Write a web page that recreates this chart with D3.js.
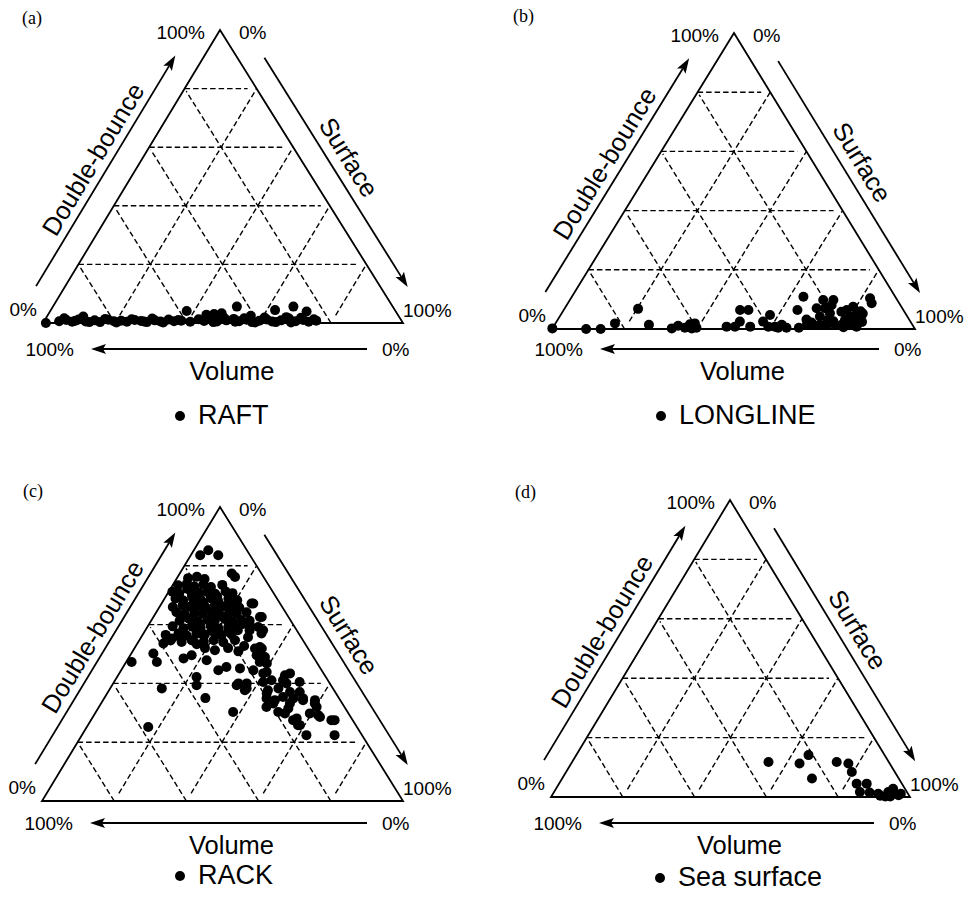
<!DOCTYPE html>
<html>
<head>
<meta charset="utf-8">
<script src="https://cdn.jsdelivr.net/npm/d3@7"></script>
<style>
  body { margin: 0; background: #fff; }
  svg { display: block; }
</style>
</head>
<body>
<script>
const panelLetters = ['(a)', '(b)', '(c)', '(d)'];
const legendNames = ['RAFT', 'LONGLINE', 'RACK', 'Sea surface'];
const axisNames = ['Double-bounce', 'Surface', 'Volume'];
const gridSteps = [20, 40, 60, 80];
const topLabels = ['100%', '0%'];   // double-bounce max / surface min at apex
const sideLabels = ['0%', '100%'];  // left corner (double-bounce), right corner (surface)
const baseLabels = ['100%', '0%'];  // volume arrow ends

// each point: [double-bounce %, surface %], volume is the rest
const raftPoints = [
  [0.0, 0.8], [0.6, 4.2], [1.0, 6.0], [0.4, 7.9], [1.2, 9.3], [0.5, 11.6], [0.9, 13.9], [0.3, 15.7],
  [1.1, 17.6], [0.6, 19.4], [0.8, 21.3], [0.4, 23.1], [1.0, 25.0], [0.7, 26.9], [0.3, 28.7], [0.9, 30.6],
  [0.5, 32.4], [1.2, 34.3], [0.6, 36.1], [0.8, 38.0], [0.4, 40.7], [1.3, 42.6], [0.7, 44.4], [1.0, 46.3],
  [0.5, 48.1], [0.9, 50.5], [1.4, 52.3], [0.6, 54.2], [1.1, 56.0], [0.3, 57.9], [0.8, 59.7], [1.2, 61.6],
  [0.5, 63.4], [0.9, 65.7], [1.5, 67.6], [0.6, 69.9], [1.0, 71.8], [0.4, 73.6], [0.8, 75.5],
  [1.6, 5.1], [0.8, 8.6], [0.3, 12.7], [1.4, 16.6], [0.2, 20.3], [1.3, 24.0], [0.5, 27.8], [1.5, 29.6],
  [0.2, 33.3], [1.0, 37.1], [1.6, 45.3], [0.3, 47.2], [1.7, 49.5], [0.4, 53.2], [1.6, 55.1], [0.2, 58.8],
  [1.9, 60.6], [0.3, 64.5], [2.0, 66.6], [0.2, 68.8], [1.8, 70.8], [1.3, 74.6],
  [4.1, 37.9], [5.6, 51.1], [4.4, 62.3], [5.6, 66.8], [3.9, 71.3], [2.2, 10.1], [3.3, 48.0], [3.1, 46.0],
  [2.5, 56.5], [2.8, 44.0]
];

const longlinePoints = [
  [0.2, 0.0], [0.0, 9.4], [0.0, 13.4], [1.9, 16.4], [6.8, 20.3], [1.4, 26.0], [0.2, 32.9], [1.1, 34.2],
  [0.4, 36.4], [1.6, 37.2], [1.9, 38.4], [0.4, 39.6], [0.2, 38.4],
  [0.8, 47.7], [0.8, 50.0], [6.4, 48.6], [6.4, 50.9], [2.5, 50.5], [0.8, 54.2], [2.5, 56.9], [4.7, 57.7],
  [0.8, 59.2], [0.8, 61.0], [1.4, 62.6], [0.4, 64.4], [0.4, 62.1],
  [10.9, 63.8], [6.4, 64.4], [1.4, 69.5], [1.4, 71.3], [1.4, 73.1], [1.4, 75.0], [7.0, 69.4], [9.8, 69.8],
  [7.0, 71.7], [9.8, 72.6], [5.3, 73.9], [4.2, 71.7], [1.4, 77.3], [1.4, 79.1], [1.9, 81.1], [6.4, 78.0],
  [7.5, 79.2], [4.7, 81.6], [3.6, 81.6], [4.2, 82.8], [4.2, 80.0], [10.4, 82.4], [8.7, 83.7], [0.8, 83.5],
  [2.4, 84.2], [3.0, 79.2], [0.4, 67.8], [3.2, 68.5], [2.6, 76.2], [5.8, 76.8], [5.2, 83.0], [2.0, 82.6],
  [6.0, 82.0], [0.6, 80.0], [3.0, 74.5], [8.0, 73.0], [2.2, 70.4]
];

const rackPoints = [
  [83.6, 2.6], [85.3, 4.0], [83.6, 7.6], [77.4, 14.4], [76.2, 15.9], [67.2, 25.4], [62.6, 30.0],
  [75.8, 3.1], [76.3, 5.3], [75.5, 7.8],
  [73.4, 1.5], [73.9, 3.7], [73.0, 6.2], [73.6, 8.4], [72.8, 10.9], [73.5, 13.7],
  [71.2, 1.0], [70.6, 3.2], [71.4, 6.0], [70.8, 8.5], [71.1, 10.7], [70.5, 13.2], [71.3, 15.7], [70.7, 17.9],
  [68.9, 3.0], [68.2, 5.5], [68.7, 8.0], [68.4, 10.2], [69.0, 12.7], [68.1, 15.2], [68.8, 17.7], [68.3, 20.4],
  [66.0, 3.7], [66.6, 6.1], [66.1, 8.4], [66.5, 10.6], [65.9, 12.8], [66.7, 15.0], [66.2, 17.5], [66.4, 19.7], [65.8, 22.2],
  [64.2, 5.6], [63.6, 8.1], [64.1, 10.6], [63.7, 13.1], [64.3, 15.3], [63.5, 17.8], [64.0, 20.3], [63.8, 22.5], [64.2, 25.0],
  [61.3, 7.9], [61.8, 10.4], [61.2, 12.9], [61.7, 15.4], [61.4, 17.6], [61.9, 20.1], [61.1, 22.6], [61.6, 24.8], [61.3, 27.3],
  [59.4, 6.9], [58.8, 10.2], [59.3, 12.4], [58.9, 14.9], [59.5, 17.4], [58.7, 19.9], [59.2, 22.4], [59.0, 24.6],
  [56.5, 6.4], [57.0, 9.7], [56.4, 12.2], [56.9, 14.7], [56.6, 17.2], [57.1, 19.7], [56.3, 21.9], [56.8, 24.4],
  [54.6, 8.7], [54.1, 12.0], [54.5, 15.0], [54.2, 18.1], [54.7, 20.6], [54.0, 23.6],
  [54.7, 26.5], [52.7, 30.0], [58.1, 25.6], [55.7, 29.6], [52.0, 25.9], [51.3, 22.6], [52.0, 19.5],
  [67.2, 24.9], [62.6, 29.5], [59.8, 28.1], [59.2, 30.7], [58.1, 32.6], [57.0, 32.7], [51.9, 33.4], [51.9, 35.3],
  [49.6, 35.0], [49.0, 37.6], [47.3, 37.0], [46.8, 39.2], [44.5, 26.9], [45.6, 28.6], [45.1, 32.6], [39.4, 34.5],
  [38.3, 37.8], [43.9, 40.6],
  [40.5, 41.3], [41.1, 43.3], [42.8, 46.2], [40.0, 48.0], [37.7, 44.0], [38.3, 46.6], [37.1, 50.4], [34.9, 45.0],
  [34.3, 47.6], [35.4, 49.3], [34.9, 52.4], [40.5, 51.4], [37.1, 53.1], [34.3, 55.4], [32.0, 46.4], [30.3, 50.5],
  [31.5, 52.7], [34.3, 58.7], [32.0, 60.3], [29.8, 59.5], [29.2, 62.1], [28.1, 56.7], [25.8, 58.7], [22.4, 62.2],
  [27.5, 66.6], [27.5, 67.5], [22.4, 70.0], [28.6, 62.9], [27.5, 56.0], [25.8, 58.2], [43.4, 47.3], [41.1, 46.5],
  [36.6, 44.2], [29.8, 52.6], [33.2, 47.7], [33.2, 52.3], [43.4, 39.9], [50.2, 35.6], [44.5, 36.6], [52.4, 34.5],
  [40.0, 37.0], [33.2, 59.2], [34.9, 55.1],
  [47.3, 1.5], [47.3, 8.5], [50.2, 6.1], [48.5, 15.3], [49.6, 17.0], [47.9, 22.0], [42.2, 22.0], [39.4, 23.4],
  [38.3, 14.3], [35.0, 28.0], [30.3, 38.0], [25.2, 17.0], [40.0, 34.7], [37.7, 37.6], [53.6, 7.2], [55.3, 8.7],
  [54.7, 14.5], [57.0, 15.7],
  [72.2, 4.6], [69.8, 7.1], [67.4, 11.4], [65.1, 16.3], [62.8, 19.0], [60.4, 13.8], [57.9, 18.5], [55.5, 11.0],
  [62.5, 9.2], [65.2, 21.0], [60.2, 26.0], [57.6, 23.1], [69.6, 14.2], [58.0, 28.9], [53.3, 16.6], [50.9, 29.3]
];

const seaPoints = [
  [11.8, 54.7], [11.3, 63.6], [14.1, 64.7], [6.2, 69.6], [11.8, 73.7], [11.3, 77.2], [8.4, 79.6], [4.5, 82.9],
  [4.5, 85.7], [1.7, 85.2], [1.1, 90.6], [1.7, 93.1], [2.8, 93.9], [0.6, 96.5], [0.2, 93.0], [0.2, 94.4],
  [1.1, 96.9], [1.5, 88.0], [0.4, 91.5]
];

const panelData = [raftPoints, longlinePoints, rackPoints, seaPoints];

// where each panel sits on the page
const layout = [
  { bl: [43, 323], br: [403, 323], apex: [220, 30], arrowY: 349, letter: [22, 24], legend: [180, 424] },
  { bl: [552, 329], br: [915, 329], apex: [734, 33], arrowY: 349, letter: [513, 22], legend: [661, 424] },
  { bl: [42, 801], br: [403, 801], apex: [220, 507], arrowY: 823, letter: [23, 497], legend: [180, 884] },
  { bl: [551, 797], br: [910, 797], apex: [730, 500], arrowY: 823, letter: [515, 498], legend: [660, 886] }
];

const sans = '"Liberation Sans", Arial, Helvetica, sans-serif';
const serif = '"Liberation Serif", "Times New Roman", serif';

const svg = d3.select('body').append('svg')
  .attr('width', 968)
  .attr('height', 903);

svg.append('rect').attr('width', 968).attr('height', 903).attr('fill', '#fff');

function trim(a, b, gapA, gapB) {
  const dx = b[0] - a[0], dy = b[1] - a[1], len = Math.hypot(dx, dy);
  const ux = dx / len, uy = dy / len;
  return [[a[0] + ux * gapA, a[1] + uy * gapA], [b[0] - ux * gapB, b[1] - uy * gapB]];
}

// point along edge a->b, pushed out along the left-hand normal
function offsetPoint(a, b, along, out) {
  const dx = b[0] - a[0], dy = b[1] - a[1], len = Math.hypot(dx, dy);
  const ux = dx / len, uy = dy / len;
  const t = along < 0 ? len + along : along;
  return [a[0] + ux * t + uy * out, a[1] + uy * t - ux * out];
}

function edgeLen(a, b) {
  return Math.hypot(b[0] - a[0], b[1] - a[1]);
}

function edgeAngle(a, b) {
  return Math.atan2(b[1] - a[1], b[0] - a[0]) * 180 / Math.PI;
}

function drawArrow(g, from, to) {
  const dx = to[0] - from[0], dy = to[1] - from[1], len = Math.hypot(dx, dy);
  const ux = dx / len, uy = dy / len;
  const headLen = 15, headHalf = 5;
  const bx = to[0] - ux * headLen, by = to[1] - uy * headLen;
  g.append('line')
    .attr('x1', from[0]).attr('y1', from[1])
    .attr('x2', bx + ux * 3).attr('y2', by + uy * 3)
    .attr('stroke', '#000')
    .attr('stroke-width', 1.8);
  const head = [
    [to[0], to[1]],
    [bx - uy * headHalf, by + ux * headHalf],
    [bx + ux * 3, by + uy * 3],
    [bx + uy * headHalf, by - ux * headHalf]
  ];
  g.append('path')
    .attr('d', d3.line()(head) + 'Z')
    .attr('fill', '#000');
}

layout.forEach((p, i) => {
  const g = svg.append('g');
  const width = p.br[0] - p.bl[0];

  const yScale = d3.scaleLinear().domain([0, 100]).range([p.bl[1], p.apex[1]]);
  const leanScale = d3.scaleLinear().domain([0, 100]).range([p.bl[0], p.apex[0]]);
  const surfScale = d3.scaleLinear().domain([0, 100]).range([0, width]);
  const proj = (dbl, surf) => [leanScale(dbl) + surfScale(surf), yScale(dbl)];

  // dashed grid
  const gridSegs = [];
  gridSteps.forEach((f) => {
    gridSegs.push(trim(proj(f, 0), proj(f, 100 - f), 0, 9));
    gridSegs.push(trim(proj(0, f), proj(f, 0), 0, 3));
    gridSegs.push(trim(proj(0, f), proj(100 - f, f), 9, 0));
  });
  g.selectAll('line.grid')
    .data(gridSegs)
    .join('line')
    .attr('class', 'grid')
    .attr('x1', (d) => d[0][0]).attr('y1', (d) => d[0][1])
    .attr('x2', (d) => d[1][0]).attr('y2', (d) => d[1][1])
    .attr('stroke', '#000')
    .attr('stroke-width', 1.4)
    .attr('stroke-dasharray', '5.5,3');

  // triangle outline
  g.append('path')
    .attr('d', d3.line()([proj(0, 0), proj(0, 100), proj(100, 0)]) + 'Z')
    .attr('fill', 'none')
    .attr('stroke', '#000')
    .attr('stroke-width', 1.8);

  // data points
  g.selectAll('circle.pt')
    .data(panelData[i])
    .join('circle')
    .attr('class', 'pt')
    .attr('cx', (d) => proj(d[0], d[1])[0])
    .attr('cy', (d) => proj(d[0], d[1])[1])
    .attr('r', 5)
    .attr('fill', '#000');

  const apex = proj(100, 0), bl = proj(0, 0), br = proj(0, 100);

  // double-bounce arrow + title
  drawArrow(g, offsetPoint(bl, apex, 28, 25), offsetPoint(bl, apex, -45, 25));
  const dbPos = offsetPoint(bl, apex, edgeLen(bl, apex) * 0.485, 33);
  g.append('text')
    .attr('transform', `translate(${dbPos[0]},${dbPos[1]}) rotate(${edgeAngle(bl, apex)})`)
    .attr('text-anchor', 'middle')
    .attr('font-family', sans)
    .attr('font-size', 25.5)
    .text(axisNames[0]);

  // surface arrow + title
  drawArrow(g, offsetPoint(apex, br, 47, 23), offsetPoint(apex, br, -28, 23));
  const sfPos = offsetPoint(apex, br, edgeLen(apex, br) * 0.51, 33);
  g.append('text')
    .attr('transform', `translate(${sfPos[0]},${sfPos[1]}) rotate(${edgeAngle(apex, br)})`)
    .attr('text-anchor', 'middle')
    .attr('font-family', sans)
    .attr('font-size', 25.5)
    .text(axisNames[1]);

  // volume arrow + title
  const arrowL = bl[0] + 48, arrowR = br[0] - 36;
  drawArrow(g, [arrowR, p.arrowY], [arrowL, p.arrowY]);
  g.append('text')
    .attr('x', (arrowL + arrowR) / 2 + 3)
    .attr('y', p.arrowY + 31)
    .attr('text-anchor', 'middle')
    .attr('font-family', sans)
    .attr('font-size', 25.5)
    .text(axisNames[2]);

  const pct = (x, y, anchor, label) => g.append('text')
    .attr('x', x).attr('y', y)
    .attr('text-anchor', anchor)
    .attr('font-family', sans)
    .attr('font-size', 19)
    .text(label);

  pct(apex[0] - 15, apex[1] + 9, 'end', topLabels[0]);
  pct(apex[0] + 19, apex[1] + 9, 'start', topLabels[1]);
  pct(bl[0] - 6, bl[1] - 7, 'end', sideLabels[0]);
  pct(br[0], br[1] - 6, 'start', sideLabels[1]);
  pct(arrowL - 17, p.arrowY + 7, 'end', baseLabels[0]);
  pct(arrowR + 15, p.arrowY + 7, 'start', baseLabels[1]);

  // panel letter
  g.append('text')
    .attr('x', p.letter[0]).attr('y', p.letter[1])
    .attr('font-family', serif)
    .attr('font-size', 18)
    .text(panelLetters[i]);

  // legend
  g.append('circle')
    .attr('cx', p.legend[0])
    .attr('cy', p.legend[1] - 8)
    .attr('r', 5)
    .attr('fill', '#000');
  g.append('text')
    .attr('x', p.legend[0] + 18)
    .attr('y', p.legend[1])
    .attr('font-family', sans)
    .attr('font-size', 27)
    .text(legendNames[i]);
});
</script>
</body>
</html>
